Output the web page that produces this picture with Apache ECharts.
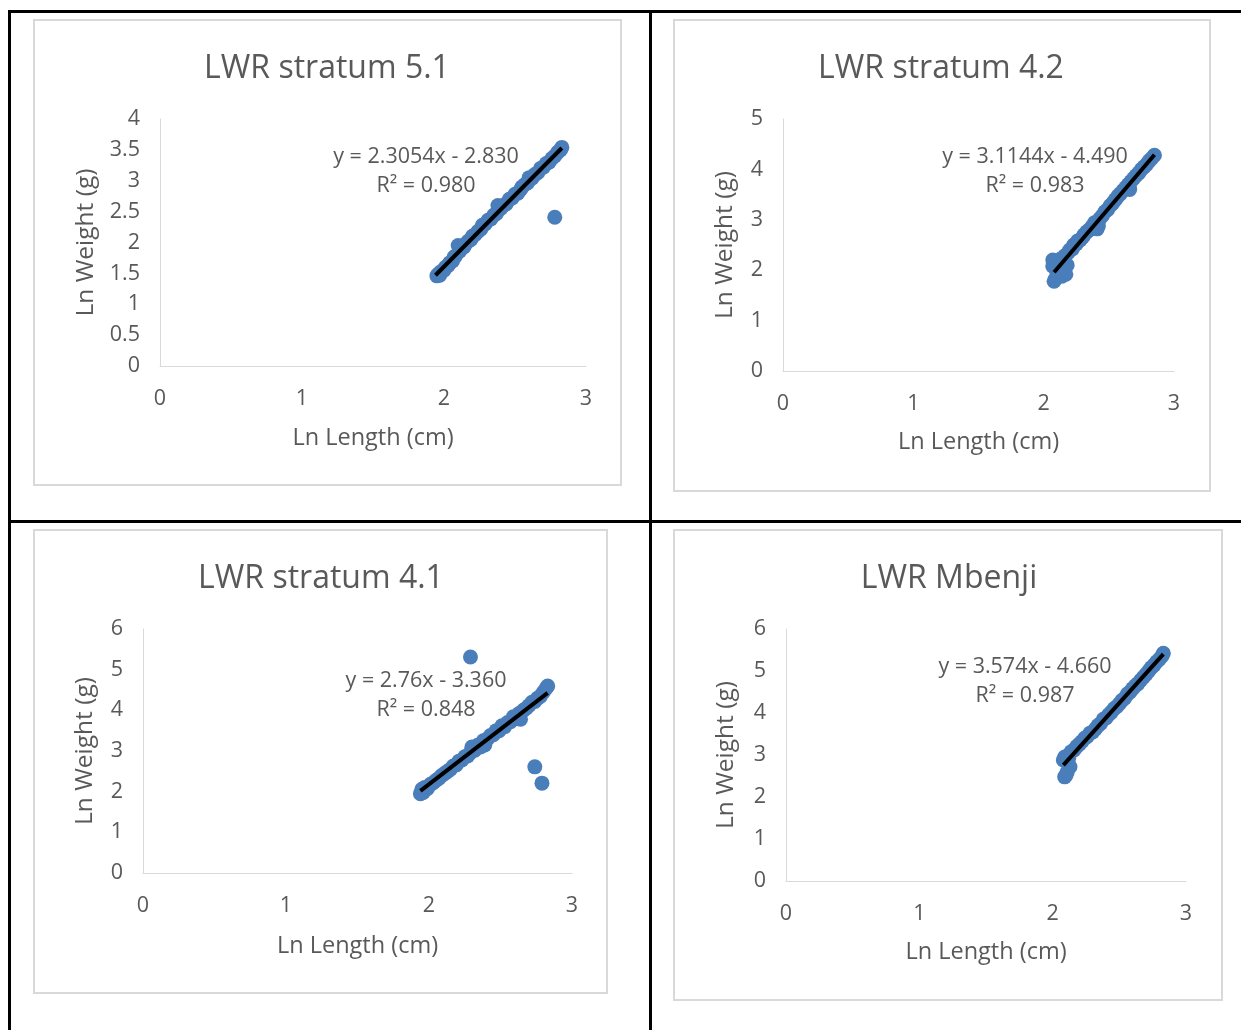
<!DOCTYPE html>
<html><head><meta charset="utf-8">
<script src="https://cdn.jsdelivr.net/npm/echarts@6/dist/echarts.min.js"></script>
<style>html,body{margin:0;padding:0;background:#fff}#c{width:1241px;height:1030px}</style>
</head><body><div id="c"></div>
<script>
// ---------- data ----------
const chartTitles = ['LWR stratum 5.1', 'LWR stratum 4.2', 'LWR stratum 4.1', 'LWR Mbenji'];
const equationTexts = ['y = 2.3054x - 2.830', 'y = 3.1144x - 4.490', 'y = 2.76x - 3.360', 'y = 3.574x - 4.660'];
const r2Texts = ['R² = 0.980', 'R² = 0.983', 'R² = 0.848', 'R² = 0.987'];
const xAxisName = 'Ln Length (cm)';
const yAxisName = 'Ln Weight (g)';
const xRange = [0, 3, 1];
const yRanges = [[0, 4, 0.5], [0, 5, 1], [0, 6, 1], [0, 6, 1]];

const s51Points = [[1.95,1.46],[1.96,1.49],[1.97,1.47],[1.98,1.53],[2.00,1.55],[2.01,1.60],[2.03,1.63],[2.04,1.67],[2.06,1.70],[2.07,1.76],[2.08,1.78],[2.10,1.95],[2.11,1.86],[2.12,1.90],[2.14,1.93],[2.15,1.97],[2.17,2.02],[2.19,2.05],[2.20,2.10],[2.22,2.13],[2.24,2.18],[2.26,2.22],[2.27,2.28],[2.29,2.30],[2.31,2.36],[2.33,2.38],[2.35,2.44],[2.37,2.47],[2.38,2.60],[2.40,2.55],[2.42,2.60],[2.44,2.63],[2.46,2.70],[2.48,2.72],[2.50,2.78],[2.52,2.80],[2.54,2.86],[2.55,2.90],[2.57,2.94],[2.59,2.97],[2.60,3.05],[2.62,3.04],[2.64,3.10],[2.66,3.13],[2.68,3.20],[2.70,3.22],[2.72,3.28],[2.74,3.30],[2.76,3.36],[2.78,3.40],[2.80,3.46],[2.82,3.50],[2.83,3.54],[2.78,2.41]];
const s51Trend = [[1.94,1.47],[2.83,3.53]];

const s42Points = [[2.07,2.08],[2.07,2.20],[2.08,1.78],[2.09,1.83],[2.09,2.12],[2.10,1.98],[2.11,2.15],[2.12,1.92],[2.13,2.22],[2.14,1.88],[2.15,2.05],[2.16,2.28],[2.17,1.92],[2.18,2.10],[2.19,2.35],[2.20,2.40],[2.22,2.42],[2.23,2.50],[2.25,2.52],[2.26,2.58],[2.28,2.60],[2.30,2.66],[2.31,2.70],[2.33,2.76],[2.35,2.80],[2.37,2.86],[2.39,2.94],[2.41,2.82],[2.42,2.88],[2.43,3.02],[2.45,3.08],[2.47,3.16],[2.49,3.20],[2.51,3.28],[2.53,3.33],[2.55,3.40],[2.57,3.47],[2.59,3.52],[2.61,3.58],[2.63,3.64],[2.65,3.70],[2.66,3.60],[2.67,3.76],[2.69,3.82],[2.71,3.88],[2.73,3.93],[2.75,4.00],[2.77,4.05],[2.79,4.10],[2.81,4.17],[2.83,4.22],[2.85,4.28]];
const s42Trend = [[2.08,1.96],[2.85,4.29]];

const s41Points = [[1.94,1.95],[1.95,2.06],[1.96,1.98],[1.97,2.10],[1.99,2.08],[2.01,2.18],[2.03,2.22],[2.05,2.28],[2.07,2.33],[2.09,2.40],[2.11,2.45],[2.13,2.50],[2.15,2.55],[2.17,2.63],[2.19,2.66],[2.21,2.75],[2.23,2.78],[2.25,2.86],[2.27,2.88],[2.29,2.96],[2.30,3.10],[2.32,3.02],[2.34,3.14],[2.36,3.10],[2.38,3.25],[2.39,3.15],[2.41,3.30],[2.43,3.38],[2.45,3.40],[2.47,3.50],[2.49,3.50],[2.51,3.62],[2.53,3.60],[2.55,3.70],[2.57,3.72],[2.59,3.84],[2.61,3.80],[2.63,3.92],[2.64,3.78],[2.66,4.00],[2.68,4.05],[2.70,4.12],[2.72,4.20],[2.74,4.22],[2.76,4.30],[2.78,4.35],[2.80,4.45],[2.82,4.55],[2.83,4.60],[2.29,5.31],[2.74,2.61],[2.79,2.21]];
const s41Trend = [[1.94,2.02],[2.83,4.43]];

const mbPoints = [[2.08,2.88],[2.09,2.48],[2.10,2.52],[2.11,2.60],[2.13,2.72],[2.12,2.92],[2.09,2.95],[2.10,2.90],[2.12,3.00],[2.14,3.08],[2.16,3.12],[2.18,3.20],[2.20,3.26],[2.22,3.32],[2.24,3.40],[2.26,3.44],[2.28,3.52],[2.30,3.55],[2.32,3.62],[2.34,3.70],[2.36,3.75],[2.38,3.85],[2.40,3.88],[2.42,3.96],[2.44,4.02],[2.46,4.10],[2.48,4.15],[2.50,4.22],[2.52,4.30],[2.54,4.35],[2.56,4.45],[2.58,4.50],[2.60,4.58],[2.62,4.65],[2.64,4.70],[2.66,4.78],[2.68,4.85],[2.70,4.92],[2.72,5.00],[2.74,5.08],[2.76,5.14],[2.78,5.22],[2.80,5.28],[2.82,5.36],[2.83,5.42]];
const mbTrend = [[2.08,2.76],[2.83,5.40]];

const pointSets = [s51Points, s42Points, s41Points, mbPoints];
const trendSets = [s51Trend, s42Trend, s41Trend, mbTrend];

// ---------- layout ----------
const FONT = 'Open Sans';
const TXT = '#595959';
const grids = [
  {left:160, top:119, width:426, height:247},
  {left:783, top:119, width:391, height:252},
  {left:143, top:629, width:429, height:244},
  {left:786, top:629, width:400, height:252}
];
const boxes = [[34,20,621,485],[674,20,1210,491],[34,530,607,993],[674,530,1222,1000]];
const titlePos = [[327,69],[941,69],[321,579],[949,579]];
const eqPos = [[426,157],[1035,157],[426,681],[1025,667]];
const yNameGap = [61,45,45,47];
const xNameGap = [60,59,61,59];

const graphic = [];
boxes.forEach(b => graphic.push({type:'rect', shape:{x:b[0], y:b[1], width:b[2]-b[0], height:b[3]-b[1]}, style:{fill:'#fff', stroke:'#d9d9d9', lineWidth:2}, z:-10}));
// table borders
[[8,11.5,1241,11.5],[9.5,10,9.5,1030],[650.5,10,650.5,1030],[8,521.5,1241,521.5]].forEach(l =>
  graphic.push({type:'line', shape:{x1:l[0], y1:l[1], x2:l[2], y2:l[3]}, style:{stroke:'#000', lineWidth:3}, z:-5}));
chartTitles.forEach((t,i) => graphic.push({type:'text', x:titlePos[i][0], y:titlePos[i][1], style:{text:t, font:'32px "'+FONT+'"', fill:TXT, textAlign:'center', textVerticalAlign:'middle'}, z:10}));
equationTexts.forEach((t,i) => {
  graphic.push({type:'text', x:eqPos[i][0], y:eqPos[i][1], style:{text:t, font:'21.5px "'+FONT+'"', fill:TXT, textAlign:'center', textVerticalAlign:'middle'}, z:10});
  graphic.push({type:'text', x:eqPos[i][0], y:eqPos[i][1]+29, style:{text:r2Texts[i], font:'21.5px "'+FONT+'"', fill:TXT, textAlign:'center', textVerticalAlign:'middle'}, z:10});
});

const axisCommon = {
  axisLine:{show:true, lineStyle:{color:'#d9d9d9', width:1}},
  axisTick:{show:false}, splitLine:{show:false},
  nameLocation:'middle'
};
const xAxis = grids.map((g,i) => Object.assign({}, axisCommon, {type:'value', gridIndex:i, min:xRange[0], max:xRange[1], interval:xRange[2], name:xAxisName, nameGap:xNameGap[i], axisLabel:{color:TXT, fontSize:21.5, fontFamily:FONT, margin:22}, nameTextStyle:{color:TXT, fontSize:23.5, fontFamily:FONT}}));
const yAxis = grids.map((g,i) => Object.assign({}, axisCommon, {type:'value', gridIndex:i, min:yRanges[i][0], max:yRanges[i][1], interval:yRanges[i][2], name:yAxisName, nameGap:yNameGap[i], nameRotate:90, axisLabel:{color:TXT, fontSize:21.5, fontFamily:FONT, margin:20}, nameTextStyle:{color:TXT, fontSize:24.5, fontFamily:FONT}}));

const series = [];
pointSets.forEach((p,i) => series.push({type:'scatter', xAxisIndex:i, yAxisIndex:i, data:p, symbolSize:15, itemStyle:{color:'#4a7ebb', opacity:1}, z:2}));
trendSets.forEach((p,i) => series.push({type:'line', xAxisIndex:i, yAxisIndex:i, data:p, symbol:'none', lineStyle:{color:'#000', width:4}, z:3}));

const chart = echarts.init(document.getElementById('c'), null, {renderer:'canvas'});
chart.setOption({
  animation:false, backgroundColor:'#fff',
  grid: grids.map(g => Object.assign({containLabel:false}, g)),
  xAxis, yAxis, series, graphic
});
</script></body></html>
